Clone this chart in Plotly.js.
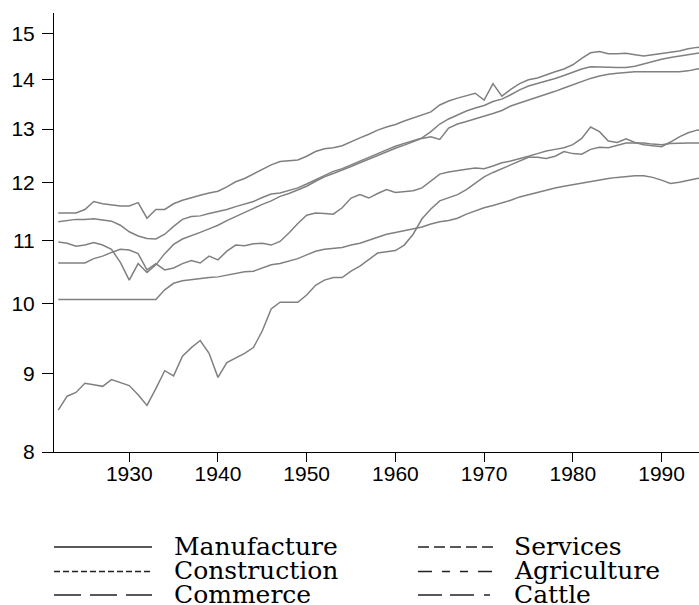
<!DOCTYPE html>
<html>
<head>
<meta charset="utf-8">
<script src="https://cdn.plot.ly/plotly-3.0.1.min.js"></script>
<style>html,body{margin:0;padding:0;background:#fff;}#chart{width:699px;height:605px;}</style>
</head>
<body>
<div id="chart"></div>
<script>
var years = [1922,1923,1924,1925,1926,1927,1928,1929,1930,1931,
1932,1933,1934,1935,1936,1937,1938,1939,1940,1941,
1942,1943,1944,1945,1946,1947,1948,1949,1950,1951,
1952,1953,1954,1955,1956,1957,1958,1959,1960,1961,
1962,1963,1964,1965,1966,1967,1968,1969,1970,1971,
1972,1973,1974,1975,1976,1977,1978,1979,1980,1981,
1982,1983,1984,1985,1986,1987,1988,1989,1990,1991,
1992,1993,1994,1995];

var services = [11.46,11.46,11.46,11.52,11.66,11.62,11.60,11.58,11.58,11.64,
11.37,11.52,11.52,11.62,11.68,11.73,11.77,11.81,11.84,11.92,
12.01,12.07,12.15,12.23,12.32,12.38,12.40,12.41,12.48,12.57,
12.62,12.64,12.68,12.76,12.83,12.90,12.98,13.04,13.09,13.16,
13.22,13.28,13.34,13.48,13.56,13.62,13.67,13.72,13.58,13.92,
13.66,13.80,13.92,14.00,14.04,14.11,14.17,14.23,14.32,14.46,
14.58,14.61,14.56,14.56,14.57,14.54,14.51,14.54,14.57,14.59,
14.62,14.67,14.70,14.71];

var commerce = [11.31,11.33,11.35,11.35,11.36,11.34,11.32,11.25,11.14,11.07,
11.03,11.02,11.10,11.23,11.35,11.40,11.41,11.45,11.48,11.52,
11.57,11.61,11.66,11.73,11.79,11.81,11.86,11.90,11.97,12.05,
12.13,12.20,12.25,12.32,12.40,12.47,12.53,12.60,12.67,12.72,
12.77,12.83,12.95,13.10,13.20,13.28,13.36,13.42,13.47,13.55,
13.60,13.69,13.79,13.87,13.92,13.97,14.03,14.09,14.16,14.23,
14.28,14.28,14.27,14.26,14.26,14.29,14.34,14.40,14.44,14.48,
14.51,14.55,14.58,14.60];

var manufacture = [10.97,10.95,10.90,10.92,10.96,10.92,10.85,10.64,10.36,10.62,
10.48,10.60,10.78,10.93,11.02,11.07,11.13,11.19,11.25,11.33,
11.40,11.47,11.55,11.61,11.67,11.75,11.80,11.86,11.93,12.02,
12.10,12.16,12.22,12.29,12.36,12.43,12.50,12.56,12.63,12.69,
12.75,12.82,12.85,12.80,13.02,13.10,13.15,13.20,13.26,13.31,
13.37,13.46,13.52,13.58,13.64,13.69,13.76,13.83,13.90,13.96,
14.03,14.08,14.12,14.14,14.16,14.17,14.17,14.17,14.17,14.17,
14.17,14.19,14.23,14.25];

var agriculture = [10.63,10.63,10.63,10.63,10.70,10.74,10.80,10.85,10.84,10.78,
10.52,10.62,10.52,10.55,10.62,10.67,10.63,10.74,10.68,10.82,
10.92,10.91,10.94,10.95,10.92,10.98,11.12,11.28,11.42,11.46,
11.45,11.44,11.55,11.72,11.78,11.72,11.80,11.87,11.82,11.83,
11.85,11.90,12.02,12.15,12.19,12.22,12.24,12.26,12.25,12.30,
12.36,12.39,12.43,12.48,12.53,12.58,12.61,12.64,12.70,12.82,
13.04,12.95,12.77,12.74,12.81,12.74,12.70,12.68,12.66,12.75,
12.85,12.93,12.98,13.00];

var cattle = [10.06,10.06,10.06,10.06,10.06,10.06,10.06,10.06,10.06,10.06,
10.06,10.06,10.21,10.31,10.35,10.37,10.38,10.40,10.41,10.44,
10.47,10.49,10.50,10.55,10.60,10.62,10.66,10.70,10.76,10.82,
10.85,10.86,10.88,10.92,10.95,11.00,11.05,11.10,11.13,11.16,
11.18,11.22,11.27,11.31,11.33,11.37,11.44,11.50,11.55,11.59,
11.63,11.68,11.74,11.78,11.82,11.87,11.90,11.93,11.96,11.99,
12.02,12.05,12.07,12.09,12.11,12.12,12.12,12.09,12.04,11.98,
12.00,12.03,12.07,12.08];

var construction = [8.52,8.70,8.75,8.87,8.85,8.83,8.92,8.88,8.84,8.72,
8.58,8.80,9.04,8.97,9.24,9.36,9.46,9.28,8.95,9.15,
9.21,9.28,9.36,9.60,9.92,10.02,10.02,10.02,10.13,10.28,
10.36,10.40,10.40,10.50,10.58,10.68,10.79,10.81,10.83,10.92,
11.10,11.36,11.53,11.67,11.73,11.78,11.87,11.98,12.10,12.18,
12.25,12.33,12.40,12.46,12.46,12.44,12.48,12.57,12.53,12.52,
12.61,12.65,12.64,12.69,12.73,12.73,12.73,12.71,12.70,12.72,
12.73,12.73,12.73,12.73];

var yTicks = [8,9,10,11,12,13,14,15];
var yTickText = ['8','9','10','11','12','13','14','15'];
var xTicks = [1930,1940,1950,1960,1970,1980,1990];

var seriesNames = ['Manufacture','Services','Construction','Agriculture','Commerce','Cattle'];
var seriesData = [manufacture, services, construction, agriculture, commerce, cattle];
var legendDash = ['solid','11px,5px','6px,3px','14px,10px,8px,10px,8px,10px','27px,9px','24px,8px,24px,10px,6px,20px'];

var traces = seriesNames.map(function(n, i){
  return {x: years, y: seriesData[i], type:'scatter', mode:'lines', name:n,
    line:{color:'#808080', width:1.5}, showlegend:false, hoverinfo:'skip'};
});

// legend layout (pixel -> paper)
var L = 54, R = 0, T = 13, B = 153, W = 699, H = 605;
var pw = W - L - R, ph = H - T - B;
function px(x){ return (x - L) / pw; }
function py(y){ return (H - B - y) / ph; }
var colLine = [[54,152],[418,498]];
var colText = [173, 513];
var rowY = [546, 570.5, 594];

var shapes = [], annotations = [];
seriesNames.forEach(function(n, i){
  var col = i % 2, row = Math.floor(i / 2);
  shapes.push({type:'line', xref:'paper', yref:'paper',
    x0:px(colLine[col][0]), x1:px(colLine[col][1]), y0:py(rowY[row]+1), y1:py(rowY[row]+1),
    line:{color:'#222', width:1.3, dash:legendDash[i]}});
  annotations.push({xref:'paper', yref:'paper', x:px(colText[col]), y:py(rowY[row]),
    xanchor:'left', yanchor:'middle', showarrow:false, text:n, borderpad:0,
    font:{family:'DejaVu Serif', size:25, color:'#000'}});
});

var layout = {
  width: W, height: H,
  margin:{l:L, r:R, t:T, b:B, pad:0},
  paper_bgcolor:'#fff', plot_bgcolor:'#fff',
  showlegend:false,
  xaxis:{range:[1921.52,1994.22], tickvals:xTicks, ticktext:xTicks.map(String),
    showline:true, linecolor:'#000', linewidth:1, ticks:'outside', ticklen:9, tickcolor:'#000',
    ticklabelstandoff:-6,
    showgrid:false, zeroline:false, tickfont:{family:'Liberation Sans, Arial', size:21, color:'#000'}},
  yaxis:{type:'log', range:[Math.log10(8), Math.log10(15.48)], tickvals:yTicks, ticktext:yTickText,
    showline:true, linecolor:'#000', linewidth:1, ticks:'outside', ticklen:11, tickcolor:'#000',
    ticklabelstandoff:3,
    showgrid:false, zeroline:false, tickfont:{family:'Liberation Sans, Arial', size:21, color:'#000'}},
  shapes: shapes,
  annotations: annotations
};

Plotly.newPlot('chart', traces, layout, {staticPlot:true, displayModeBar:false});
</script>
</body>
</html>
